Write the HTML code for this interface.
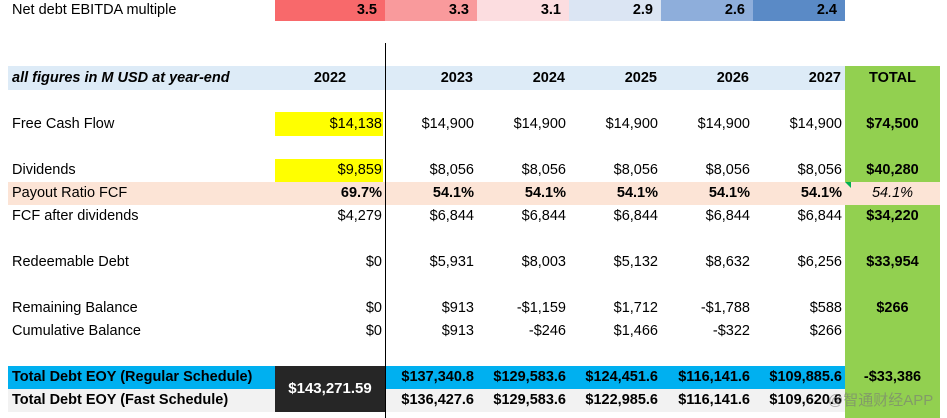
<!DOCTYPE html>
<html><head><meta charset="utf-8">
<style>
body{margin:0;width:947px;height:418px;background:#fff;position:relative;overflow:hidden;font-family:"Liberation Sans",sans-serif;font-size:14.5px;color:#000}
.c{position:absolute;height:23px;line-height:23px;white-space:nowrap;box-sizing:border-box}
.r{text-align:right;padding-right:2px}
.b{font-weight:bold}
</style></head><body>
<div style="position:absolute;left:845px;top:66px;width:95px;height:352px;background:#92d050"></div>
<div style="position:absolute;left:8px;top:66px;width:837px;height:24px;background:#ddebf7"></div>
<div style="position:absolute;left:8px;top:182px;width:932px;height:23px;background:#fce4d6"></div>
<div style="position:absolute;left:8px;top:366px;width:837px;height:23px;background:#00b0f0"></div>
<div style="position:absolute;left:8px;top:389px;width:837px;height:23px;background:#f2f2f2"></div>
<div style="position:absolute;left:275px;top:112px;width:108px;height:24px;background:#ffff00"></div>
<div style="position:absolute;left:275px;top:159px;width:108px;height:23px;background:#ffff00"></div>
<div style="position:absolute;left:275px;top:366px;width:110px;height:46px;background:#262626;color:#fff;font-weight:bold;line-height:46px;text-align:center;font-size:15px">$143,271.59</div>
<div style="position:absolute;left:385px;top:43px;width:1px;height:375px;background:#000"></div>
<div style="position:absolute;left:845px;top:182px;width:0;height:0;border-top:6px solid #00b050;border-right:6px solid transparent;transform:scaleX(-1)"></div>
<div id="root"></div>
<div style="position:absolute;left:828px;top:389px;color:rgba(120,120,120,0.6);font-size:15px;line-height:23px">@智通财经APP</div>
<script>
const years=["2022","2023","2024","2025","2026","2027"];
const multiples=["3.5","3.3","3.1","2.9","2.6","2.4"];
const multColors=["#f8696b","#f99a9c","#fcdde0","#dbe5f3","#8eaedb","#5a8ac6"];
const fcf=["$14,138","$14,900","$14,900","$14,900","$14,900","$14,900","$74,500"];
const dividends=["$9,859","$8,056","$8,056","$8,056","$8,056","$8,056","$40,280"];
const payout=["69.7%","54.1%","54.1%","54.1%","54.1%","54.1%","54.1%"];
const fcfAfter=["$4,279","$6,844","$6,844","$6,844","$6,844","$6,844","$34,220"];
const redeemable=["$0","$5,931","$8,003","$5,132","$8,632","$6,256","$33,954"];
const remaining=["$0","$913","-$1,159","$1,712","-$1,788","$588","$266"];
const cumulative=["$0","$913","-$246","$1,466","-$322","$266",""];
const regular=["","$137,340.8","$129,583.6","$124,451.6","$116,141.6","$109,885.6","-$33,386"];
const fast=["","$136,427.6","$129,583.6","$122,985.6","$116,141.6","$109,620.6",""];
const colL=[275,385,477,569,661,753];const colW=[110,92,92,92,92,92];
const root=document.getElementById('root');
function cell(txt,x,y,w,cls,name,extra){const d=document.createElement('div');d.className='c '+cls;d.style.left=x+'px';d.style.top=y+'px';d.style.width=w+'px';d.textContent=txt;if(extra)Object.assign(d.style,extra);


root.appendChild(d);return d;}
cell("Net debt EBITDA multiple",12,0,260,'','multiple-label',{height:'21px',lineHeight:'21px'});
multiples.forEach((m,i)=>cell(m,colL[i],0,colW[i],'r b','multiple-'+years[i],{background:multColors[i],height:'21px',lineHeight:'21px',paddingRight:'8px'}));
cell("all figures in M USD at year-end",12,67,260,'b','units-label',{fontStyle:'italic'});
years.forEach((y,i)=>cell(y,colL[i],67,colW[i],i==0?'b':'r b','year-'+y,i==0?{textAlign:'center'}:{paddingRight:'4px'}));
cell("TOTAL",845,67,95,'b','total-header',{textAlign:'center'});
function row(label,arr,y,name,opts){opts=opts||{};
cell(label,12,y,260,opts.labelBold?'b':'',name+'-label');
arr.slice(0,6).forEach((v,i)=>{if(v!=="")cell(v,colL[i],y,colW[i],'r'+(opts.bold?' b':''),name+'-'+years[i],{paddingRight:'3px'})});
if(arr[6]!=="")cell(arr[6],845,y,95,opts.totItalic?'':'b','total-'+name,{textAlign:'center',fontStyle:opts.totItalic?'italic':'normal'});}
row("Free Cash Flow",fcf,113,'fcf');
row("Dividends",dividends,159,'dividends');
row("Payout Ratio FCF",payout,182,'payout',{bold:true,totItalic:true});
row("FCF after dividends",fcfAfter,205,'fcf-after');
row("Redeemable Debt",redeemable,251,'redeemable');
row("Remaining Balance",remaining,297,'remaining');
row("Cumulative Balance",cumulative,320,'cumulative');
row("Total Debt EOY (Regular Schedule)",regular,366,'regular',{bold:true,labelBold:true});
row("Total Debt EOY (Fast Schedule)",fast,389,'fast',{bold:true,labelBold:true});
</script>
</body></html>
